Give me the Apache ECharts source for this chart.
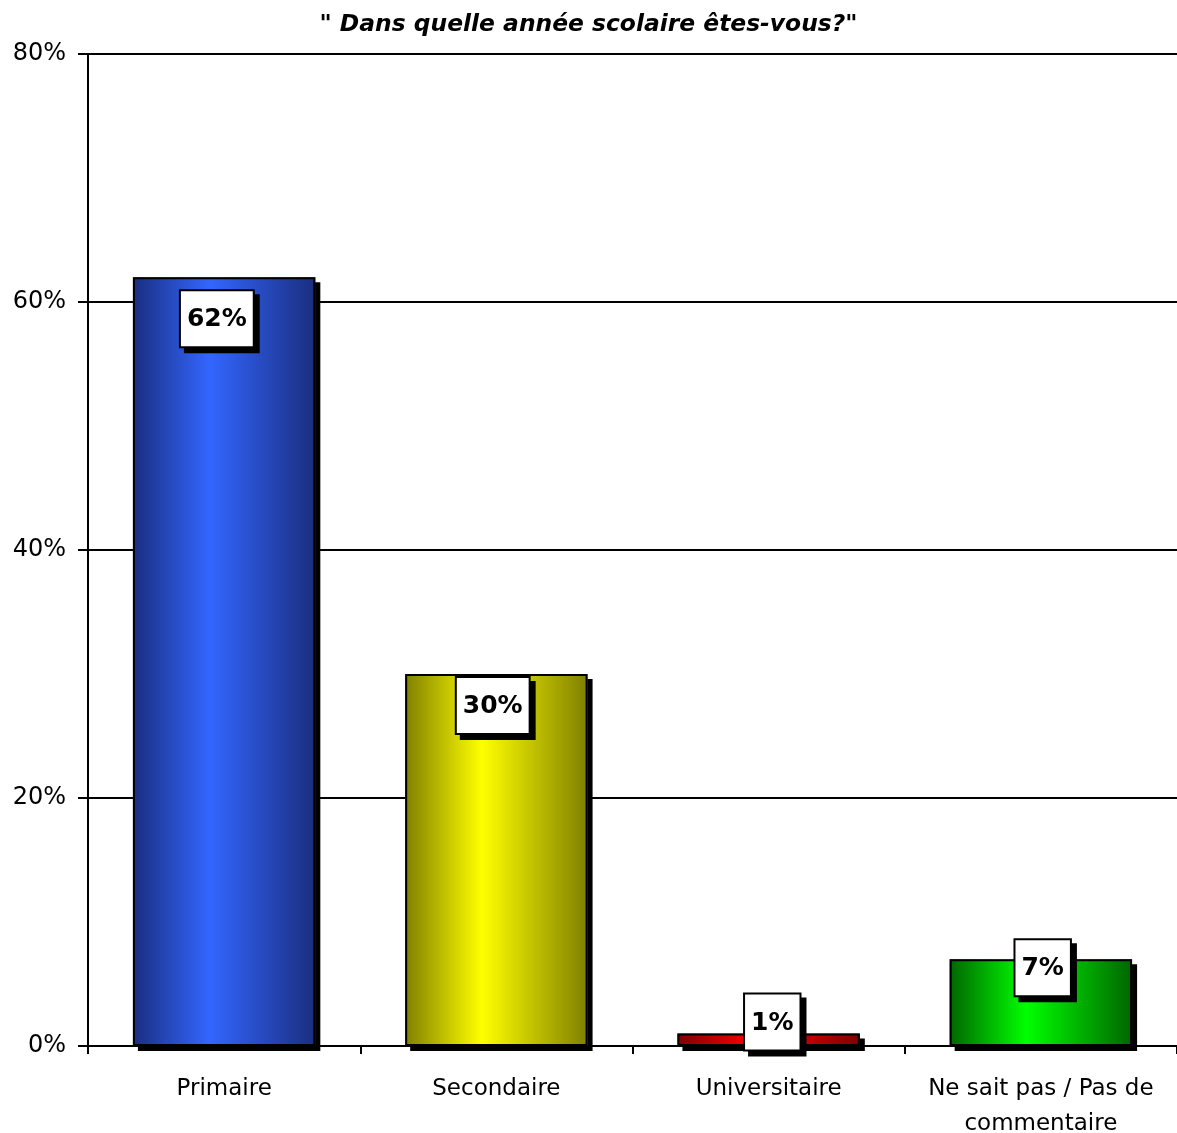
<!DOCTYPE html>
<html><head><meta charset="utf-8">
<script src="https://cdn.jsdelivr.net/npm/echarts@6/dist/echarts.min.js"></script>
<style>html,body{margin:0;padding:0;background:#fff}#c{width:1177px;height:1133px}</style>
</head><body><div id="c"></div>
<script>
const titleText = '" Dans quelle année scolaire êtes-vous?"';
const categories = ['Primaire', 'Secondaire', 'Universitaire', 'Ne sait pas / Pas de\ncommentaire'];
const values = [62, 30, 1, 7];
const yTicks = [0, 20, 40, 60, 80];
const barColors = [
  ['#1a2e80', '#3366ff'],
  ['#808000', '#ffff00'],
  ['#800000', '#ff0000'],
  ['#006600', '#00ff00']
];
// label box placement relative to each bar (x share of bar width, px below bar top)
const labelPlaces = [['46%', 14], ['48%', 4], ['52%', -39], ['51%', -19]];

const font = 'DejaVu Sans';
function grad(c) {
  return new echarts.graphic.LinearGradient(0, 0, 1, 0, [
    {offset: 0, color: c[0]}, {offset: 0.42, color: c[1]}, {offset: 1, color: c[0]}
  ]);
}
const chart = echarts.init(document.getElementById('c'));
chart.setOption({
  animation: false,
  title: {text: titleText, left: 'center', top: 8,
    textStyle: {fontFamily: font, fontSize: 23.4, fontWeight: 'bold', fontStyle: 'italic', color: '#000'}},
  grid: {left: 88, right: 0, top: 54, bottom: 87, outerBoundsMode: 'none', containLabel: false},
  xAxis: {type: 'category', data: categories,
    axisLine: {lineStyle: {color: '#000', width: 2}},
    axisTick: {show: true, interval: 0, length: 8, lineStyle: {color: '#000', width: 2}},
    axisLabel: {interval: 0, fontFamily: font, fontSize: 23, color: '#000', margin: 26, lineHeight: 35}},
  yAxis: {type: 'value', min: yTicks[0], max: yTicks[yTicks.length - 1], interval: 20,
    axisLine: {show: true, lineStyle: {color: '#000', width: 2}},
    axisTick: {show: true, length: 10, lineStyle: {color: '#000', width: 2}},
    axisLabel: {fontFamily: font, fontSize: 24, color: '#000', margin: 22, formatter: '{value}%'},
    splitLine: {lineStyle: {color: '#000', width: 2}}},
  series: [{
    type: 'bar', barCategoryGap: '33%', z: 2,
    data: values.map((v, i) => ({value: v, itemStyle: {color: grad(barColors[i])}})),
    itemStyle: {borderWidth: 0,
      shadowColor: '#000', shadowBlur: 0, shadowOffsetX: 5, shadowOffsetY: 5}
  }, {
    type: 'bar', barCategoryGap: '33%', barGap: '-100%', z: 3,
    data: values.map((v, i) => ({value: v, label: {position: labelPlaces[i]}})),
    itemStyle: {color: 'rgba(0,0,0,0)', borderColor: '#000', borderWidth: 2},
    label: {show: true, align: 'center', verticalAlign: 'top', formatter: '{c}%',
      fontFamily: font, fontSize: 25, fontWeight: 'bold', color: '#000',
      backgroundColor: '#fff', borderColor: '#000', borderWidth: 2,
      padding: [16, 6, 14, 6],
      shadowColor: '#000', shadowBlur: 0, shadowOffsetX: 5, shadowOffsetY: 5}
  }]
});
</script></body></html>
